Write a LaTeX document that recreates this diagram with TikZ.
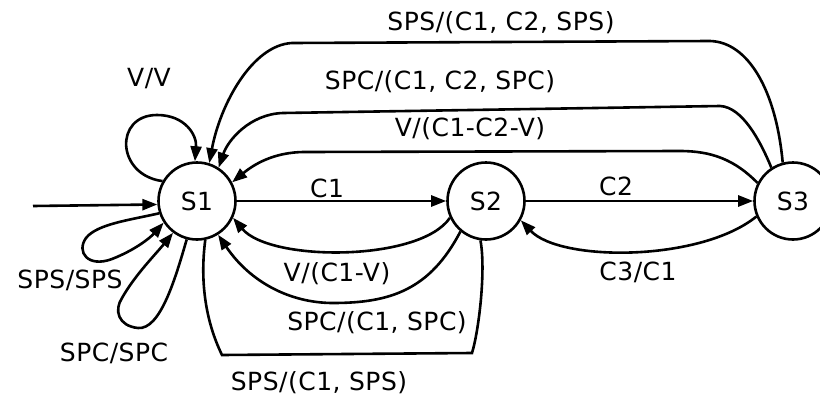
\documentclass[tikz,border=0pt]{standalone}
\usepackage{fontspec}
\setmainfont{DejaVu Sans}[LetterSpace=2]
\usetikzlibrary{arrows.meta}
\begin{document}
\begin{tikzpicture}[x=1pt,y=-1pt,
  line width=2.6pt,
  every node/.style={font=\fontsize{25}{28}\selectfont, inner sep=0pt},
  state/.style={circle,draw,line width=2.6pt,minimum size=77pt},
  arr/.style={-{Triangle[length=15pt,width=11pt]}},
  lbl/.style={anchor=center}]
\useasboundingbox (0,0) rectangle (820,402);
\fill[white] (0,0) rectangle (820,402);

\node[state] (s1) at (197,201) {S1};
\node[state] (s2) at (486,201) {S2};
\node[state] (s3) at (793,201) {S3};

\coordinate (init) at (33,206);
\draw[arr] (init) -- (s1.185);

% forward
\draw[arr] (s1.east) -- (s2.west);
\node[lbl] (lc1) at (327,188) {C1};
\draw[arr] (s2.east) -- (s3.west);
\node[lbl] (lc2) at (616,186) {C2};

% C3/C1
\draw[arr] (s3.203) .. controls (700,262) and (560,262) .. (s2.-29);
\node[lbl] (lc3) at (638,272) {C3/C1};

% back to s1 from s2
\draw[arr] (s2.205) .. controls (420,262) and (270,262) .. (s1.-25);
\node[lbl] (lv1) at (337,274) {V/(C1-V)};
\draw[arr] (s2.230) .. controls (430,290) and (390,303) .. (333,303)
  .. controls (290,303) and (250,282) .. (s1.-58);
\node[lbl] (lspc1) at (377,323) {SPC/(C1, SPC)};
\draw (s2.-98) .. controls (486,270) and (479,330) .. (472,353) -- (222,355)
  .. controls (205,320) and (200,280) .. (s1.-78);
\node[lbl] (lsps1) at (319,383) {SPS/(C1, SPS)};

% back to s1 from s3
\draw[arr] (s3.153) .. controls (735,160) and (712,151) .. (680,151) -- (305,152)
  .. controls (272,152) and (252,166) .. (s1.28);
\node[lbl] (lv2) at (470,129) {V/(C1-C2-V)};
\draw[arr] (s3.123) .. controls (760,140) and (742,107) .. (720,106) -- (283,113)
  .. controls (250,114) and (228,140) .. (s1.57);
\node[lbl] (lspc2) at (440,82) {SPC/(C1, C2, SPC)};
\draw[arr] (s3.105) .. controls (776,90) and (748,42) .. (710,41) -- (292,43)
  .. controls (252,45) and (220,105) .. (s1.72);
\node[lbl] (lsps2) at (501,23) {SPS/(C1, C2, SPS)};

% self loops
\draw[arr] (s1.150) .. controls (116,175) and (114,115) .. (157,115)
  .. controls (185,115) and (197,135) .. (s1.93);
\node[lbl] (lvv) at (149,79) {V/V};
\draw[arr] (s1.198) .. controls (130,220) and (97,224) .. (86,238)
  .. controls (76,252) and (88,268) .. (112,259)
  .. controls (135,250) and (150,238) .. (s1.213);
\node[lbl] (lss) at (70,280) {SPS/SPS};
\draw[arr] (s1.-105) .. controls (175,280) and (160,330) .. (138,328)
  .. controls (118,326) and (114,310) .. (122,298)
  .. controls (135,275) and (155,255) .. (s1.-127);
\node[lbl] (lcc) at (114,353) {SPC/SPC};
\end{tikzpicture}
\end{document}
